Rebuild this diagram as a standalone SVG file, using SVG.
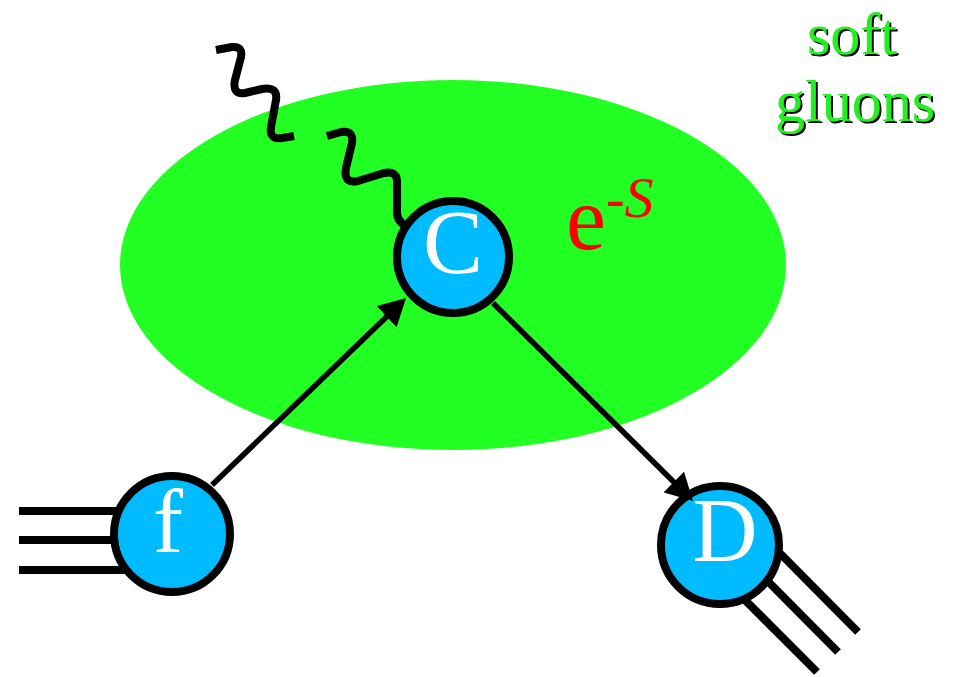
<svg xmlns="http://www.w3.org/2000/svg" width="955" height="677" viewBox="0 0 955 677">
<defs>
<style>
.node circle{fill:#00bbff;stroke:#000;stroke-width:8}
.lbl{font-family:"Liberation Serif","Times New Roman",serif;fill:#fff;font-size:90px;text-anchor:middle}
.jet{stroke:#000;stroke-width:8;fill:none}
.wave{stroke:#000;stroke-width:8;fill:none;stroke-linejoin:round}
.conn{stroke:#000;stroke-width:5.5;fill:none}
.sg{font-family:"Liberation Serif","Times New Roman",serif;font-size:60px;text-anchor:middle;fill:#22ee22;filter:url(#shadow)}
</style>
<filter id="shadow" filterUnits="userSpaceOnUse" x="740" y="0" width="215" height="150">
<feOffset in="SourceAlpha" dx="2" dy="2" result="off"/>
<feMerge><feMergeNode in="off"/><feMergeNode in="SourceGraphic"/></feMerge>
</filter>
<marker id="ah" viewBox="0 0 27 29" refX="17" refY="14.5" markerWidth="27" markerHeight="29" markerUnits="userSpaceOnUse" orient="auto">
<path d="M0,0 L27,14.5 L0,29 z" fill="#000"/>
</marker>
</defs>
<rect width="955" height="677" fill="#fff"/>
<g id="soft-region">
<ellipse cx="453" cy="265" rx="333" ry="185" fill="#22ff22"/>
<text x="566" y="249" font-family="'Liberation Serif','Times New Roman',serif" font-size="90" fill="#ff0000">e<tspan font-size="56" dy="-32">-</tspan><tspan font-size="58" font-style="italic">S</tspan></text>
</g>
<g id="gluon">
<path class="wave" d="M216,50 L232,47 Q243,46 241,57 L235,80 Q232,95 245,93 L262,89 Q278,86 276,100 L271,127 Q269,140 282,138 L294,136"/>
<path class="wave" d="M327,136 L341,132 Q354,130 352,143 L346,168 Q343,184 358,181 L384,173 Q398,170 397,184 L397,212 Q397,222 407,226"/>
</g>
<g id="label-soft-gluons">
<text class="sg" x="852" y="54">soft</text>
<text class="sg" x="855" y="121">gluons</text>
</g>
<g id="node-f" class="node">
<line class="jet" x1="19" y1="511" x2="172" y2="511"/>
<line class="jet" x1="19" y1="540" x2="172" y2="540"/>
<line class="jet" x1="19" y1="570" x2="172" y2="570"/>
<circle cx="172" cy="534" r="58"/>
<text class="lbl" x="168" y="552">f</text>
</g>
<g id="node-C" class="node">
<circle cx="453" cy="257" r="56"/>
<text class="lbl" x="453" y="273" font-size="88">C</text>
</g>
<g id="node-D" class="node">
<line class="jet" x1="740" y1="513" x2="858" y2="632"/>
<line class="jet" x1="720" y1="533" x2="838" y2="652"/>
<line class="jet" x1="698" y1="553" x2="817" y2="672"/>
<circle cx="720" cy="545" r="59"/>
<text class="lbl" x="725" y="561">D</text>
</g>
<g id="connectors">
<line class="conn" x1="212" y1="485" x2="398.8" y2="304.9" marker-end="url(#ah)"/>
<line class="conn" x1="493" y1="303" x2="685.9" y2="494" marker-end="url(#ah)"/>
</g>
</svg>
